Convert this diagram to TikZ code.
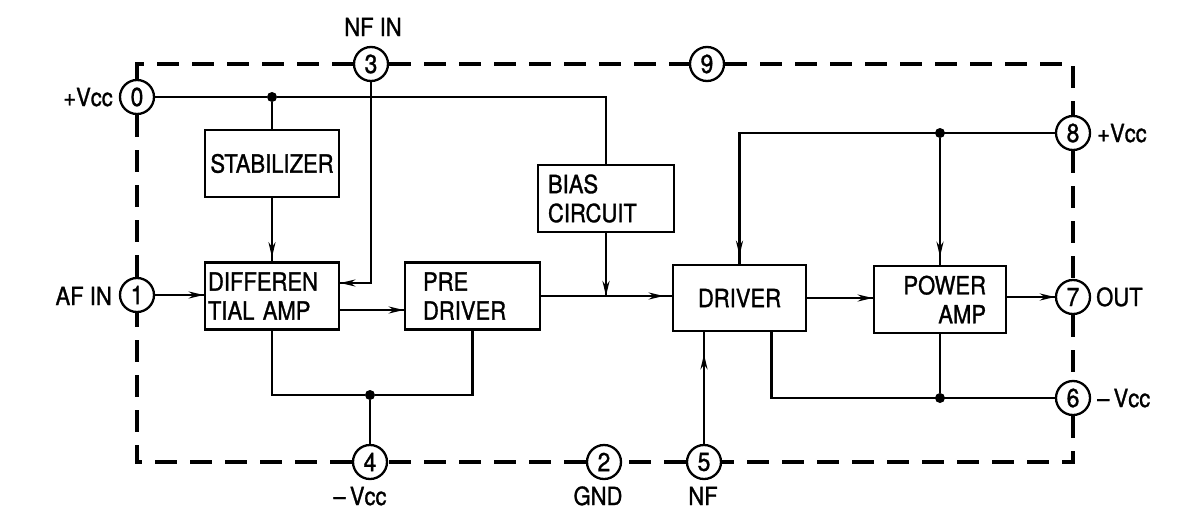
\documentclass[tikz,border=0pt]{standalone}
\usepackage{fontspec}
\setmainfont[FakeStretch=0.88,FakeBold=1.2]{TeX Gyre Heros}
\usetikzlibrary{arrows.meta,decorations.markings}
\begin{document}
\begin{tikzpicture}[x=1pt,y=-1pt,
  blk/.style={draw, line width=2.6pt, inner ysep=0pt, minimum height=67pt,
    font=\fontsize{25}{29}\selectfont},
  pinc/.style={draw, circle, line width=2.3pt, minimum size=34pt, inner sep=0pt,
    font=\fontsize{26}{26}\selectfont},
  lbl/.style={font=\fontsize{25}{29}\selectfont, inner sep=0pt},
  wire/.style={line width=2.4pt},
  frame/.style={line width=3.2pt, dash pattern=on 22pt off 13pt},
  jdot/.style={circle, fill, inner sep=0pt, minimum size=10pt},
  arrat/.style={postaction={decorate},decoration={markings,
    mark=at position #1 with {\arrow{Stealth[length=15pt,width=7pt]}}}},
  arr/.style={arrat=1}
]
\useasboundingbox (0,0) rectangle (1187,509);

% blocks
\node[blk, text width=126pt, inner xsep=4pt, align=center] (stab) at (272,163.5) {STABILIZER};
\node[blk, text width=128pt, inner xsep=3pt, align=left] (diff) at (272,296) {DIFFEREN\\TIAL AMP};
\node[blk, text width=99pt, inner xsep=18pt, align=left] (pre) at (472.5,296) {PRE\\DRIVER};
\node[blk, text width=116pt, inner xsep=10pt, align=left] (bias) at (606,198.5) {BIAS\\CIRCUIT};
\node[blk, text width=125pt, inner xsep=4pt, align=center, minimum height=66pt] (drv) at (739.5,298) {DRIVER};
\node[blk, text width=92pt, inner xsep=20pt, align=right] (pwr) at (940,299.5) {POWER\\AMP};

% pins
\node[pinc] (p0) at (137,97) {0};
\node[pinc] (p1) at (137,295) {1};
\node[pinc] (p3) at (371,64) {3};
\node[pinc] (p9) at (707,64) {9};
\node[pinc] (p8) at (1073,133) {8};
\node[pinc] (p7) at (1073,297) {7};
\node[pinc] (p6) at (1073,398) {6};
\node[pinc] (p4) at (370,462) {4};
\node[pinc] (p2) at (604,462) {2};
\node[pinc] (p5) at (704,462) {5};

% pin labels
\node[lbl, anchor=base] (lnfin) at (373,36) {NF IN};
\node[lbl, anchor=base east] (lvcc0) at (113,106) {+Vcc};
\node[lbl, anchor=base east] (lafin) at (112,305) {AF IN};
\node[lbl, anchor=base west] (lvcc8) at (1097,142) {+Vcc};
\node[lbl, anchor=base west] (lout) at (1096,306) {OUT};
\node[lbl, anchor=base west] (lvcc6) at (1097,407) {–\,Vcc};
\node[lbl, anchor=base] (lvcc4) at (360,505) {–\,Vcc};
\node[lbl, anchor=base] (lgnd) at (598,505) {GND};
\node[lbl, anchor=base] (lnf) at (703,505) {NF};

% junction dots
\node[jdot] (j1) at (272,97) {};
\node[jdot] (j4) at (370,395) {};
\node[jdot] (j8) at (940,133) {};
\node[jdot] (j6) at (940,398) {};

% dashed package outline
\draw[frame] (p0.north) |- (p3.west);
\draw[frame] (p3.east) -- (p9.west);
\draw[frame] (p9.east) -| (p8.north);
\draw[frame] (p8.south) -- (p7.north);
\draw[frame] (p7.south) -- (p6.north);
\draw[frame] (p6.south) |- (p5.east);
\draw[frame] (p5.west) -- (p2.east);
\draw[frame] (p2.west) -- (p4.east);
\draw[frame] (p4.west) -| (p1.south);
\draw[frame] (p1.north) -- (p0.south);

% connections
\draw[wire] (p0.east) -- (j1) -| (bias.north);
\draw[wire] (j1) -- (stab.north);
\draw[wire, arrat=-4pt] (stab.south) -- (diff.north);
\draw[wire, arr] (p3.south) |- ([yshift=13pt]diff.east);
\draw[wire, arr] (p1.east) -- (p1.east -| diff.west);
\draw[wire, arr] ([yshift=-14pt]diff.east) -- ([yshift=-14pt]pre.west);
\draw[wire, arrat=-8pt] (pre.east) -- (pre.east -| drv.west);
\draw[wire, arr] (bias.south) -- (bias.south |- pre.east);
\draw[wire] (diff.south) |- (j4) -| (pre.south);
\draw[wire] (j4) -- (p4.north);
\draw[wire, arrat=-8pt] (p8.west) -| (drv.north);
\draw[wire, arrat=-8pt] (j8) -- (pwr.north);
\draw[wire, arr] (drv.east) -- (drv.east -| pwr.west);
\draw[wire, arr] (pwr.east |- p7) -- (p7.west);
\draw[wire] ([xshift=32pt]drv.south) |- (p6.west);
\draw[wire] (pwr.south) -- (j6);
\draw[wire, arrat=-22pt] (p5.north) -- (p5.north |- drv.south);
\end{tikzpicture}
\end{document}
